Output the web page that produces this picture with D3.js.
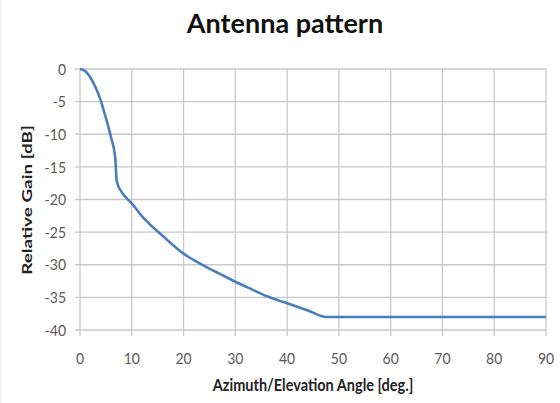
<!DOCTYPE html>
<html><head><meta charset="utf-8">
<script src="https://cdn.jsdelivr.net/npm/d3@7"></script>
<style>body{margin:0;background:#fff}</style>
</head><body>
<svg id="c" width="560" height="403"></svg>
<script>
const angles = [0,1,2,3,4,5,6,6.8,7.1,8,9,10,12,14,16,18,20,22,25,28,30,33,36,40,44,47.6,90];
const gains  = [0,-0.3,-1.3,-2.8,-4.8,-7.5,-10.5,-13.5,-17.2,-18.8,-19.8,-20.6,-22.6,-24.2,-25.6,-27.0,-28.3,-29.3,-30.6,-31.8,-32.6,-33.7,-34.8,-35.9,-37.0,-38,-38];
const xTicks = [0,10,20,30,40,50,60,70,80,90];
const yTicks = [0,-5,-10,-15,-20,-25,-30,-35,-40];
const title = "Antenna pattern";
const xTitle = "Azimuth/Elevation Angle [deg.]";
const yTitle = "Relative Gain [dB]";

const svg = d3.select("#c");
const L=80, R=546, T=69, B=330;
const x = d3.scaleLinear().domain([0,90]).range([L,R]);
const y = d3.scaleLinear().domain([-40,0]).range([B,T]);
const grid="#c9c9c9", lab="#595959", font="Lato, 'Open Sans', sans-serif";

svg.append("line").attr("x1",0.5).attr("x2",0.5).attr("y1",0).attr("y2",403).attr("stroke","#eee");

svg.append("g").selectAll("line").data(yTicks).join("line")
  .attr("x1",L-5).attr("x2",R).attr("y1",d=>y(d)).attr("y2",d=>y(d))
  .attr("stroke",grid).attr("stroke-width",1.3);
svg.append("g").selectAll("line").data(xTicks).join("line")
  .attr("x1",d=>x(d)).attr("x2",d=>x(d)).attr("y1",T).attr("y2",B+6)
  .attr("stroke",grid).attr("stroke-width",1.3);

svg.append("g").selectAll("text").data(yTicks).join("text")
  .attr("transform",d=>`translate(${L-14},${y(d)}) scale(1,1.15)`)
  .attr("dy","0.35em").attr("text-anchor","end")
  .attr("font-family",font).attr("font-size",14).attr("fill",lab).text(d=>d);
svg.append("g").selectAll("text").data(xTicks).join("text")
  .attr("transform",d=>`translate(${x(d)},358) scale(1,1.15)`)
  .attr("dy","0.35em").attr("text-anchor","middle")
  .attr("font-family",font).attr("font-size",14).attr("fill",lab).text(d=>d);

const pts = angles.map((a,i)=>[a,gains[i]]);
svg.append("path").datum(pts)
  .attr("d", d3.line().x(d=>x(d[0])).y(d=>y(d[1])).curve(d3.curveMonotoneX))
  .attr("fill","none").attr("stroke","#4a7ebb").attr("stroke-width",2.6);

svg.append("text").attr("x",285).attr("y",33).attr("text-anchor","middle")
  .attr("font-family",font).attr("font-weight","bold").attr("font-size",27).attr("fill","#111").text(title);
svg.append("text").attr("transform","translate(313,385) scale(1,1.15)").attr("dy","0.35em").attr("text-anchor","middle")
  .attr("font-family",font).attr("font-weight","bold").attr("font-size",14.5).attr("fill","#222").text(xTitle);
svg.append("text").attr("transform","translate(27,200) rotate(-90) scale(1.4,1)").attr("dy","0.35em").attr("text-anchor","middle")
  .attr("font-family",font).attr("font-weight","bold").attr("font-size",13.5).attr("fill","#222").text(yTitle);
</script>
</body></html>
